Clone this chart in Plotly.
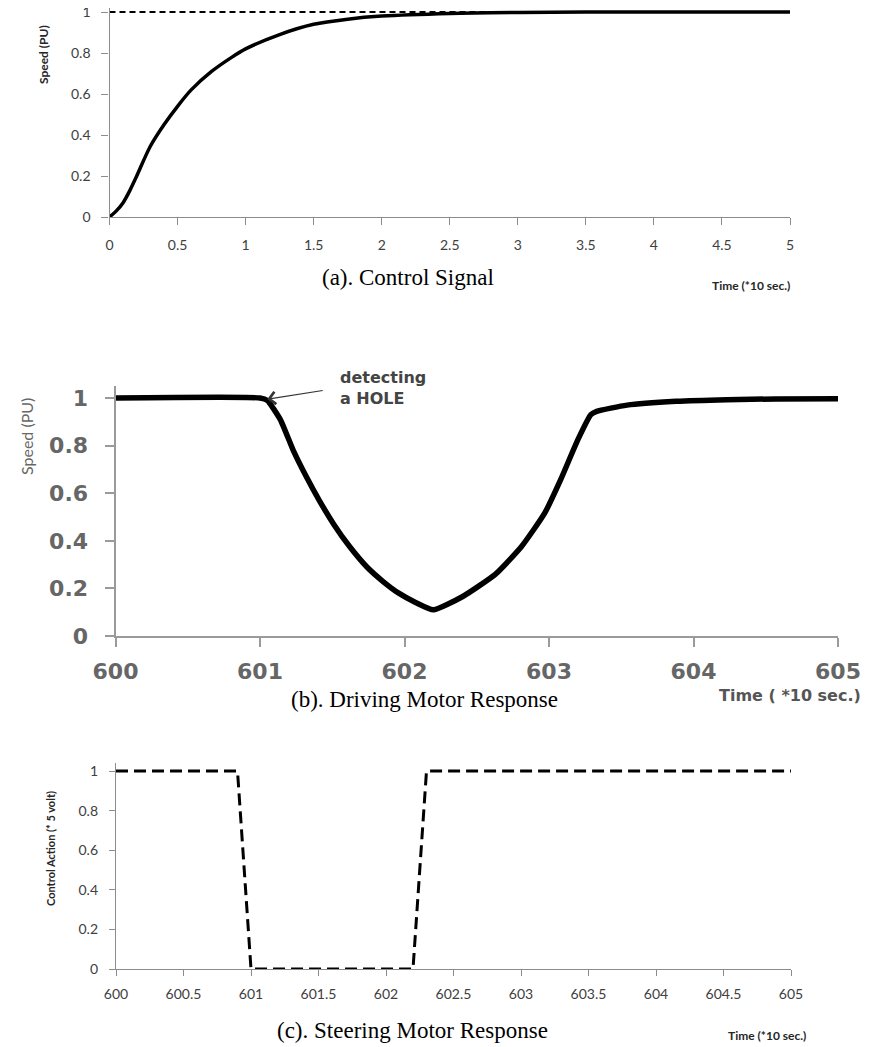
import plotly.graph_objects as go

# ---------------- data ----------------
# (a) Control Signal
a_time = [0, 0.05, 0.1, 0.15, 0.2, 0.3, 0.4, 0.5, 0.6, 0.75, 0.9, 1.0, 1.25, 1.5, 1.75, 2.0, 2.5, 3.0, 3.5, 4.0, 4.5, 5.0]
a_speed = [0, 0.03, 0.07, 0.13, 0.2, 0.345, 0.45, 0.54, 0.62, 0.71, 0.78, 0.82, 0.89, 0.94, 0.965, 0.98, 0.993, 0.998, 1, 1, 1, 1]
a_ref_time = [0, 5]
a_ref_value = [1, 1]

# (b) Driving Motor Response
b_time = [600, 601.0, 601.05, 601.14, 601.23, 601.32, 601.41, 601.51, 601.62, 601.74, 601.85, 601.96,
          602.08, 602.2, 602.4, 602.63, 602.81, 602.97, 603.08, 603.2, 603.29, 603.33, 603.54, 603.88,
          604.23, 604.57, 605]
b_speed = [1, 1, 0.99, 0.91, 0.78, 0.67, 0.57, 0.47, 0.376, 0.29, 0.23, 0.18,
           0.14, 0.11, 0.165, 0.26, 0.376, 0.516, 0.656, 0.825, 0.93, 0.944, 0.97, 0.986,
           0.993, 0.996, 0.997]
b_hole_time = 601.05
b_hole_speed = 0.995

# (c) Steering Motor Response
c_time = [600, 600.9, 601.0, 602.2, 602.3, 605]
c_action = [1, 1, 0, 0, 1, 1]

# tick labels
a_xticks = [0, 0.5, 1, 1.5, 2, 2.5, 3, 3.5, 4, 4.5, 5]
a_xlabels = ["0", "0.5", "1", "1.5", "2", "2.5", "3", "3.5", "4", "4.5", "5"]
y_ticks = [0, 0.2, 0.4, 0.6, 0.8, 1]
y_labels = ["0", "0.2", "0.4", "0.6", "0.8", "1"]
b_xticks = [600, 601, 602, 603, 604, 605]
b_xlabels = ["600", "601", "602", "603", "604", "605"]
c_xticks = [600, 600.5, 601, 601.5, 602, 602.5, 603, 603.5, 604, 604.5, 605]
c_xlabels = ["600", "600.5", "601", "601.5", "602", "602.5", "603", "603.5", "604", "604.5", "605"]

# ---------------- figure ----------------
# the page body has an 8px margin, so the figure is sized to the remaining window
OFF = 8
W, H = 884 - OFF, 1047 - OFF


def px(p):
    return (p - OFF) / W


def py(p):
    return min(1.0, max(0.0, 1 - (p - OFF) / H))


fig = go.Figure()

fig.add_trace(go.Scatter(x=a_ref_time, y=a_ref_value, mode="lines",
                         line=dict(color="black", width=2, dash="6px,4px"),
                         xaxis="x", yaxis="y", hoverinfo="skip"))
fig.add_trace(go.Scatter(x=a_time, y=a_speed, mode="lines",
                         line=dict(color="black", width=3.5, shape="spline", smoothing=0.8),
                         xaxis="x", yaxis="y"))
fig.add_trace(go.Scatter(x=b_time, y=b_speed, mode="lines",
                         line=dict(color="black", width=5.5, shape="spline", smoothing=0.5),
                         xaxis="x2", yaxis="y2"))
fig.add_trace(go.Scatter(x=c_time, y=c_action, mode="lines",
                         line=dict(color="black", width=3, dash="12px,6px"),
                         xaxis="x3", yaxis="y3"))

grey = "#8c8c8c"
small_font = dict(family="Lato", size=14, color="#404040")
big_font = dict(family="DejaVu Sans", size=22, color="#666666", weight="bold")

common_x = dict(showgrid=False, zeroline=False, showline=True, linecolor=grey, linewidth=1.3,
                ticks="outside", tickcolor=grey, tickwidth=1.3, fixedrange=True, automargin=False)
common_y = dict(showgrid=False, zeroline=False, showline=True, linecolor=grey, linewidth=1.3,
                ticks="outside", tickcolor=grey, tickwidth=1.3, fixedrange=True, automargin=False,
                tickmode="array", tickvals=y_ticks, ticktext=y_labels, ticklabeloverflow="allow")

a_y0, a_y1, a_top = 217, 12, 1.018
b_y0, b_y1, b_top = 636, 398, 1.05
c_y0, c_y1, c_top = 969, 771, 1.04

fig.update_layout(
    width=W, height=H, margin=dict(l=0, r=0, t=0, b=0, pad=0, autoexpand=False),
    paper_bgcolor="white", plot_bgcolor="white", showlegend=False,
    xaxis=dict(common_x, domain=[px(109.5), px(790)], range=[0, 5], anchor="y",
               tickmode="array", tickvals=a_xticks, ticktext=a_xlabels,
               ticklen=7, tickfont=small_font, ticklabelstandoff=8),
    yaxis=dict(common_y, domain=[py(a_y0), py(a_y0 - a_top * (a_y0 - a_y1))], range=[0, a_top],
               anchor="x", ticklen=7, tickfont=small_font, ticklabelstandoff=8),
    xaxis2=dict(common_x, domain=[px(115.5), px(838)], range=[600, 605], anchor="y2",
                tickmode="array", tickvals=b_xticks, ticktext=b_xlabels,
                ticklen=9, tickfont=big_font, linecolor="#9a9a9a", tickcolor="#9a9a9a",
                linewidth=2, tickwidth=2, ticklabelstandoff=6),
    yaxis2=dict(common_y, domain=[py(b_y0), py(b_y0 - b_top * (b_y0 - b_y1))], range=[0, b_top],
                anchor="x2", ticklen=9, tickfont=big_font, linecolor="#9a9a9a", tickcolor="#9a9a9a",
                linewidth=2, tickwidth=2, ticklabelstandoff=12),
    xaxis3=dict(common_x, domain=[px(116), px(791)], range=[600, 605], anchor="y3",
                tickmode="array", tickvals=c_xticks, ticktext=c_xlabels,
                ticklen=6, tickfont=small_font, ticklabelstandoff=6),
    yaxis3=dict(common_y, domain=[py(c_y0), py(c_y0 - c_top * (c_y0 - c_y1))], range=[0, c_top],
                anchor="x3", ticklen=6, tickfont=small_font, ticklabelstandoff=8),
)

caption_font = dict(family="Liberation Serif", size=23, color="black")
lab_bold = dict(family="Lato", size=12, color="#262626", weight="bold")

annotations = [
    # captions
    dict(text="(a). Control Signal", x=px(408), y=py(277), font=caption_font),
    dict(text="(b). Driving Motor Response", x=px(424), y=py(699), font=caption_font),
    dict(text="(c). Steering Motor Response", x=px(412), y=py(1030), font=caption_font),
    # time labels
    dict(text="Time (*10 sec.)", x=px(751), y=py(285), font=lab_bold),
    dict(text="Time ( *10 sec.)", x=px(790), y=py(695),
         font=dict(family="DejaVu Sans", size=16, color="#555555", weight="bold")),
    dict(text="Time (*10 sec.)", x=px(767), y=py(1035), font=lab_bold),
    # y titles
    dict(text="Speed (PU)", x=px(44), y=py(55), textangle=-90, font=lab_bold),
    dict(text="Speed (PU)", x=px(27), y=py(437), textangle=-90,
         font=dict(family="Lato", size=16, color="#666666")),
    dict(text="Control Action (* 5 volt)", x=px(50), y=py(849), textangle=-90,
         font=dict(family="Lato", size=11, color="#262626", weight="bold")),
    # hole label
    dict(text="detecting<br>a HOLE", x=px(338), y=py(388), xanchor="left", align="left",
         font=dict(family="DejaVu Sans", size=16, color="#444444", weight="bold")),
]
for a in annotations:
    a.setdefault("xanchor", "center")
    a.setdefault("yanchor", "middle")
    a.update(xref="paper", yref="paper", showarrow=False)
    fig.add_annotation(**a)

fig.add_annotation(x=b_hole_time, y=b_hole_speed, xref="x2", yref="y2", text="",
                   showarrow=True, arrowhead=4, arrowsize=2.2, arrowwidth=1.1, arrowcolor="#333333",
                   ax=57, ay=-9)

fig.write_html("out.html")
